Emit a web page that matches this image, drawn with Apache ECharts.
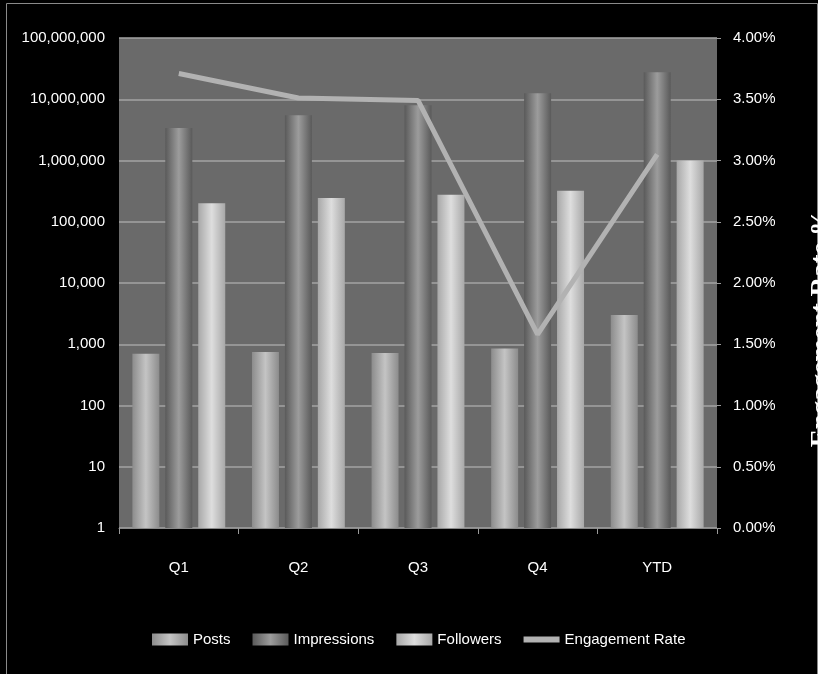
<!DOCTYPE html>
<html>
<head>
<meta charset="utf-8">
<script src="https://cdn.jsdelivr.net/npm/echarts@6/dist/echarts.min.js"></script>
<style>
html,body{margin:0;padding:0;background:#000;}
#chart{width:818px;height:674px;}
</style>
</head>
<body>
<div id="chart"></div>
<script>
const categories = ['Q1', 'Q2', 'Q3', 'Q4', 'YTD'];
const posts = [700, 750, 720, 850, 3000];
const impressions = [3400000, 5500000, 8000000, 12500000, 27500000];
const followers = [200000, 245000, 275000, 320000, 1000000];
const engagementRate = [3.71, 3.51, 3.49, 1.58, 3.05];

const chart = echarts.init(document.getElementById('chart'));
const font = "'Liberation Sans', 'DejaVu Sans', sans-serif";

function grad(edge, mid) {
  return new echarts.graphic.LinearGradient(0, 0, 1, 0, [
    {offset: 0, color: edge},
    {offset: 0.5, color: mid},
    {offset: 1, color: edge}
  ]);
}

const option = {
  backgroundColor: '#000000',
  animation: false,
  grid: {
    left: 119, right: 101, top: 38, bottom: 146,
    show: true, backgroundColor: '#6a6a6a', borderWidth: 0
  },
  legend: {
    left: 147, top: 627,
    itemWidth: 36, itemHeight: 12, itemGap: 22,
    textStyle: {color: '#ffffff', fontSize: 15, fontFamily: font},
    data: [
      {name: 'Posts', icon: 'rect'},
      {name: 'Impressions', icon: 'rect'},
      {name: 'Followers', icon: 'rect'},
      {name: 'Engagement Rate', icon: 'path://M0,0L0.01,0L0,0.01Z M36,12L35.99,12L36,11.99Z M0,3L36,3L36,9L0,9Z'}
    ]
  },
  xAxis: {
    type: 'category',
    data: categories,
    boundaryGap: true,
    axisLine: {show: true, lineStyle: {color: '#8a8a8a', width: 1}},
    axisTick: {show: true, length: 6, lineStyle: {color: '#9a9a9a'}},
    axisLabel: {color: '#ffffff', fontSize: 15, fontFamily: font, margin: 32}
  },
  yAxis: [
    {
      type: 'log',
      logBase: 10,
      min: 1,
      max: 100000000,
      interval: 1,
      splitNumber: 8,
      axisLine: {show: false},
      axisTick: {show: false},
      splitLine: {show: true, lineStyle: {color: '#a4a4a4', width: 1.5}},
      axisLabel: {
        color: '#ffffff', fontSize: 15, fontFamily: font, margin: 14,
        formatter: v => Math.round(v).toLocaleString('en-US')
      }
    },
    {
      type: 'value',
      min: 0,
      max: 4,
      interval: 0.5,
      position: 'right',
      axisLine: {show: false},
      axisTick: {show: true, length: 4, lineStyle: {color: '#9a9a9a'}},
      splitLine: {show: false},
      axisLabel: {
        color: '#ffffff', fontSize: 15, fontFamily: font, margin: 16,
        formatter: v => v.toFixed(2) + '%'
      }
    }
  ],
  graphic: [
    {
      type: 'rect', left: 4, top: 1, silent: true,
      shape: {width: 811, height: 671},
      style: {fill: 'none', stroke: '#8a8a8a', lineWidth: 1}
    },
    {
      type: 'text', x: 822, y: 328, rotation: Math.PI / 2, silent: true,
      style: {
        text: 'Engagement Rate %', fill: '#ffffff',
        font: "bold 27px 'Liberation Serif', 'DejaVu Serif', serif",
        textAlign: 'center', textVerticalAlign: 'middle'
      }
    }
  ],
  series: [
    {
      name: 'Posts', type: 'bar', yAxisIndex: 0,
      data: posts, barWidth: 27, barGap: '22%',
      itemStyle: {color: grad('#8c8c8c', '#c4c4c4')}
    },
    {
      name: 'Impressions', type: 'bar', yAxisIndex: 0,
      data: impressions, barWidth: 27, barGap: '22%',
      itemStyle: {color: grad('#5a5a5a', '#9c9c9c')}
    },
    {
      name: 'Followers', type: 'bar', yAxisIndex: 0,
      data: followers, barWidth: 27, barGap: '22%',
      itemStyle: {color: grad('#a8a8a8', '#dedede')}
    },
    {
      name: 'Engagement Rate', type: 'line', yAxisIndex: 1,
      data: engagementRate, symbol: 'none', showSymbol: false,
      lineStyle: {color: '#b2b2b2', width: 5},
      itemStyle: {color: '#b2b2b2'}
    }
  ]
};
chart.setOption(option);
</script>
</body>
</html>
